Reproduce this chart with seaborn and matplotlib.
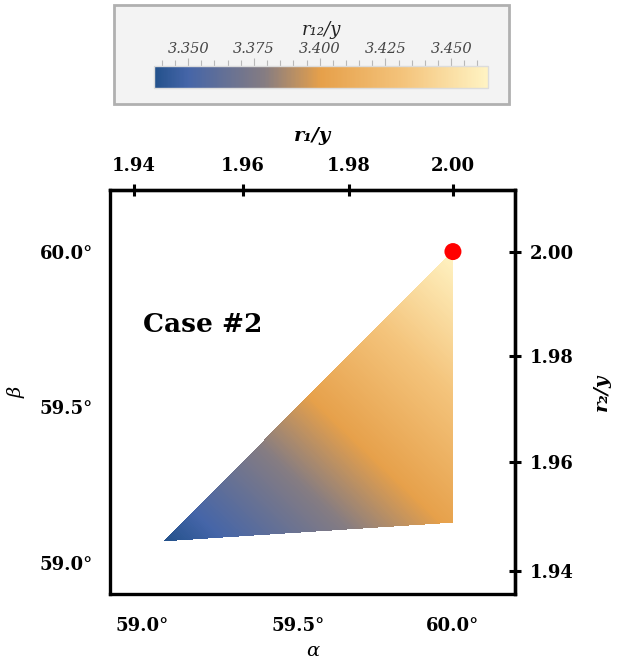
import numpy as np
import matplotlib
matplotlib.use("Agg")
import matplotlib.pyplot as plt
import matplotlib.tri as mtri
from matplotlib.colors import LinearSegmentedColormap, Normalize
from matplotlib.ticker import MultipleLocator, FixedLocator, StrMethodFormatter
from matplotlib.patches import Rectangle
import seaborn as sns
import pandas as pd

# ---- data ----
alpha_pts = [59.07, 60.00, 60.00]      # vertices of the feasible region (alpha, deg)
beta_pts = [59.07, 60.00, 59.13]       # (beta, deg)
r12_pts = [3.337, 3.464, 3.403]        # r12/y at the vertices
marker_alpha = [60.0]
marker_beta = [60.0]
alpha_ticks = [59.0, 59.5, 60.0]
beta_ticks = [59.0, 59.5, 60.0]
r_ticks = [1.94, 1.96, 1.98, 2.00]
cbar_ticks = [3.350, 3.375, 3.400, 3.425, 3.450]
cbar_range = [3.337, 3.464]
case_label = "Case #2"

sns.set_theme(style="white")
serif = ["DejaVu Serif", "Liberation Serif"]
plt.rcParams["font.family"] = serif
plt.rcParams["text.color"] = "black"
plt.rcParams["axes.labelcolor"] = "black"
plt.rcParams["xtick.color"] = "black"
plt.rcParams["ytick.color"] = "black"

fig = plt.figure(figsize=(6.24, 6.62), dpi=100)
W, H = 624, 662

def fax(x0, y0, x1, y1):
    return [x0 / W, 1 - y1 / H, (x1 - x0) / W, (y1 - y0) / H]

cmap = LinearSegmentedColormap.from_list(
    "bo",
    [(0.0, "#23518b"), (0.10, "#4565a8"), (0.33, "#857c82"),
     (0.50, "#e6a04a"), (0.75, "#f4c47c"), (1.0, "#fff3c3")])
norm = Normalize(vmin=cbar_range[0], vmax=cbar_range[1])

# colorbar panel background (drawn first, behind everything)
fig.patches.append(Rectangle((114 / W, 1 - 104 / H), 395 / W, 99 / H,
                             transform=fig.transFigure, facecolor="#f3f3f3",
                             edgecolor="#b0b0b0", linewidth=2, zorder=-10))

ax = fig.add_axes(fax(110, 190, 515, 594))
tri = mtri.Triangulation(alpha_pts, beta_pts)
levels = np.linspace(cbar_range[0], cbar_range[1], 256)
ax.tricontourf(tri, r12_pts, levels=levels, cmap=cmap, norm=norm, extend="both",
               antialiased=False)
df = pd.DataFrame({"alpha": marker_alpha, "beta": marker_beta})
sns.scatterplot(data=df, x="alpha", y="beta", ax=ax, color="#ff0000", s=150,
                edgecolor="none", zorder=5, clip_on=False)

ax.set_xlim(58.895, 60.2)
ax.set_ylim(58.899, 60.198)
ax.set_xticks(alpha_ticks)
ax.set_yticks(beta_ticks)
ax.xaxis.set_major_formatter(StrMethodFormatter("{x:.1f}°"))
ax.yaxis.set_major_formatter(StrMethodFormatter("{x:.1f}°"))
for sp in ax.spines.values():
    sp.set_linewidth(2.4)
    sp.set_color("black")
ax.tick_params(axis="x", direction="inout", length=9, width=2.2, labelsize=13,
               colors="black", pad=12)
ax.tick_params(axis="y", direction="inout", length=9, width=2.2, labelsize=13,
               colors="black", pad=8)
for lab in ax.get_xticklabels() + ax.get_yticklabels():
    lab.set_fontweight("bold")
ax.set_xlabel("α", fontsize=14, fontstyle="italic", labelpad=5)
ax.set_ylabel("β", fontsize=14, fontstyle="italic", labelpad=10)
ax.grid(False)
ax.text(59.0, 59.765, case_label, fontsize=19, fontweight="bold",
        ha="left", va="center", color="black")

def f(a):
    return 1.0 / np.cos(np.radians(a))

def g(r):
    r = np.asarray(r, dtype=float)
    with np.errstate(invalid="ignore", divide="ignore"):
        return np.degrees(np.arccos(np.clip(1.0 / r, -1, 1)))

sx = ax.secondary_xaxis("top", functions=(f, g))
sy = ax.secondary_yaxis("right", functions=(f, g))
for s, axis in ((sx, sx.xaxis), (sy, sy.yaxis)):
    axis.set_major_locator(FixedLocator(r_ticks))
    axis.set_major_formatter(StrMethodFormatter("{x:.2f}"))
    s.tick_params(direction="inout", length=9, width=2.2, labelsize=13,
                  pad=6, colors="black")
    for sp in s.spines.values():
        sp.set_linewidth(2.4)
for lab in sx.get_xticklabels() + sy.get_yticklabels():
    lab.set_fontweight("bold")
sx.set_xlabel("r₁/y", fontsize=14, fontweight="bold", fontstyle="italic",
              labelpad=12)
sy.set_ylabel("r₂/y", fontsize=14, fontweight="bold", fontstyle="italic",
              labelpad=14)

cax = fig.add_axes(fax(154, 66, 488, 88))
cax.set_zorder(5)
sm = plt.cm.ScalarMappable(norm=norm, cmap=cmap)
cb = fig.colorbar(sm, cax=cax, orientation="horizontal")
cb.outline.set_edgecolor("#dcdcdc")
cb.outline.set_linewidth(1)
cax.xaxis.set_ticks_position("top")
cax.xaxis.set_label_position("top")
cb.set_ticks(cbar_ticks)
cax.xaxis.set_major_formatter(StrMethodFormatter("{x:.3f}"))
cax.xaxis.set_minor_locator(MultipleLocator(0.005))
cax.tick_params(axis="x", which="major", length=6, width=0.8, colors="#b8b8b8",
                labelcolor="#444444", labelsize=10.5, pad=1)
cax.tick_params(axis="x", which="minor", length=4, width=0.8, colors="#b8b8b8")
for lab in cax.get_xticklabels():
    lab.set_fontstyle("italic")
cax.set_xlabel("r₁₂/y", fontsize=13, fontstyle="italic", color="#222222",
               labelpad=5)

fig.savefig("out.png", dpi=100)
